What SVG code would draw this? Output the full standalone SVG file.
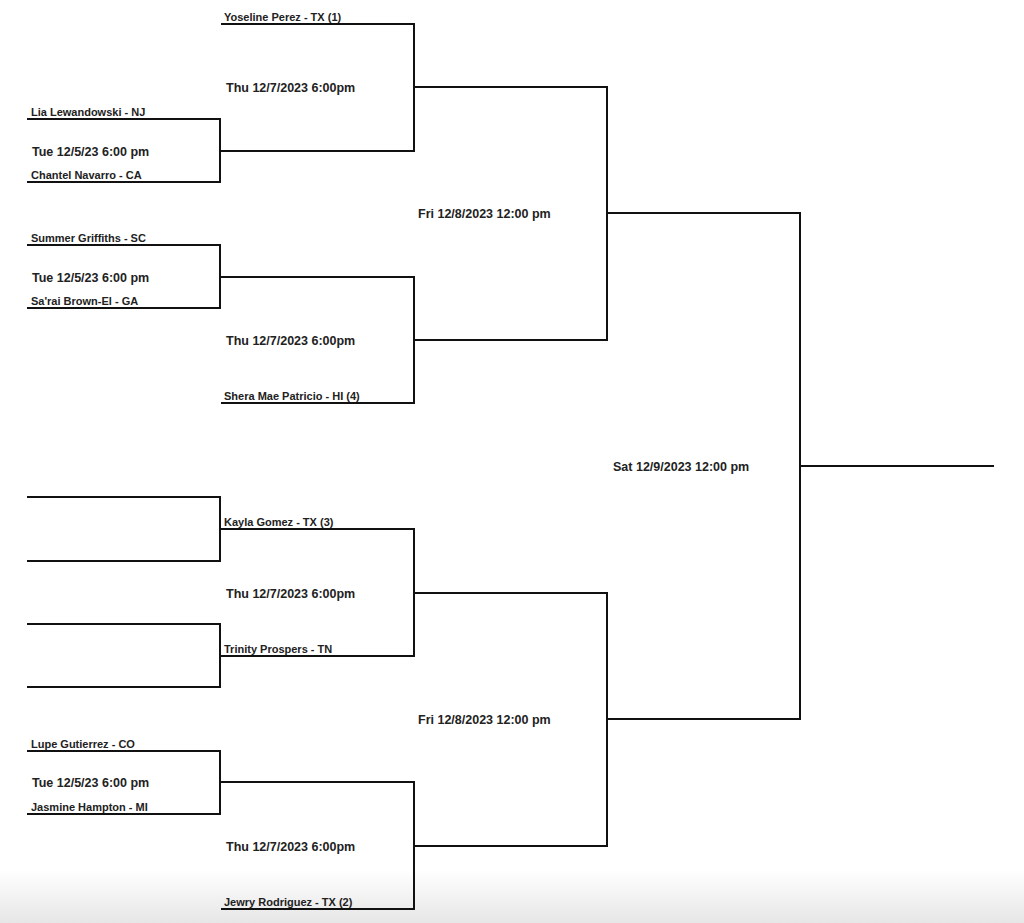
<svg xmlns="http://www.w3.org/2000/svg" width="1024" height="923" viewBox="0 0 1024 923">
<defs>
<linearGradient id="shade" x1="0" y1="0" x2="0" y2="1">
<stop offset="0" stop-color="#ffffff"/>
<stop offset="1" stop-color="#e6e6e6"/>
</linearGradient>
<style>
.ln{fill:none;stroke:#111;stroke-width:2;stroke-linecap:square}
.nm{font-family:"Liberation Sans",Arial,sans-serif;font-weight:bold;font-size:11px;fill:#222}
.dt{font-family:"Liberation Sans",Arial,sans-serif;font-weight:bold;font-size:12.5px;fill:#222}
</style>
</defs>
<rect width="1024" height="923" fill="#fff"/>
<rect x="0" y="870" width="1024" height="53" fill="url(#shade)"/>
<g id="connectors">
<path class="ln" d="M28 119H220V182H28M220 151H414"/>
<path class="ln" d="M222 24H414V151M414 87H607"/>
<path class="ln" d="M28 245H220V308H28M220 277H414"/>
<path class="ln" d="M222 403H414V277M414 340H607"/>
<path class="ln" d="M607 87V340M607 213H800"/>
<path class="ln" d="M28 497H220V561H28M220 529H414"/>
<path class="ln" d="M28 624H220V687H28M220 656H414"/>
<path class="ln" d="M414 529V656M414 593H607"/>
<path class="ln" d="M28 751H220V814H28M220 782H414"/>
<path class="ln" d="M222 909H414V782M414 846H607"/>
<path class="ln" d="M607 593V846M607 719H800"/>
<path class="ln" d="M800 213V719M800 466H993"/>
</g>
<g id="r1-top">
<text class="nm" x="31" y="116">Lia Lewandowski - NJ</text>
<text class="dt" x="32" y="156">Tue 12/5/23 6:00 pm</text>
<text class="nm" x="31" y="179">Chantel Navarro - CA</text>
</g>
<g id="r1-second">
<text class="nm" x="31" y="242">Summer Griffiths - SC</text>
<text class="dt" x="32" y="282">Tue 12/5/23 6:00 pm</text>
<text class="nm" x="31" y="305">Sa'rai Brown-El - GA</text>
</g>
<g id="r1-bottom">
<text class="nm" x="31" y="748">Lupe Gutierrez - CO</text>
<text class="dt" x="32" y="787">Tue 12/5/23 6:00 pm</text>
<text class="nm" x="31" y="811">Jasmine Hampton - MI</text>
</g>
<g id="qf1">
<text class="nm" x="224" y="21">Yoseline Perez - TX (1)</text>
<text class="dt" x="226" y="92">Thu 12/7/2023 6:00pm</text>
</g>
<g id="qf2">
<text class="dt" x="226" y="345">Thu 12/7/2023 6:00pm</text>
<text class="nm" x="224" y="400">Shera Mae Patricio - HI (4)</text>
</g>
<g id="qf3">
<text class="nm" x="224" y="526">Kayla Gomez - TX (3)</text>
<text class="dt" x="226" y="598">Thu 12/7/2023 6:00pm</text>
<text class="nm" x="224" y="653">Trinity Prospers - TN</text>
</g>
<g id="qf4">
<text class="dt" x="226" y="851">Thu 12/7/2023 6:00pm</text>
<text class="nm" x="224" y="906">Jewry Rodriguez - TX (2)</text>
</g>
<g id="sf1"><text class="dt" x="418" y="218">Fri 12/8/2023 12:00 pm</text></g>
<g id="sf2"><text class="dt" x="418" y="724">Fri 12/8/2023 12:00 pm</text></g>
<g id="final"><text class="dt" x="613" y="471">Sat 12/9/2023 12:00 pm</text></g>
</svg>
